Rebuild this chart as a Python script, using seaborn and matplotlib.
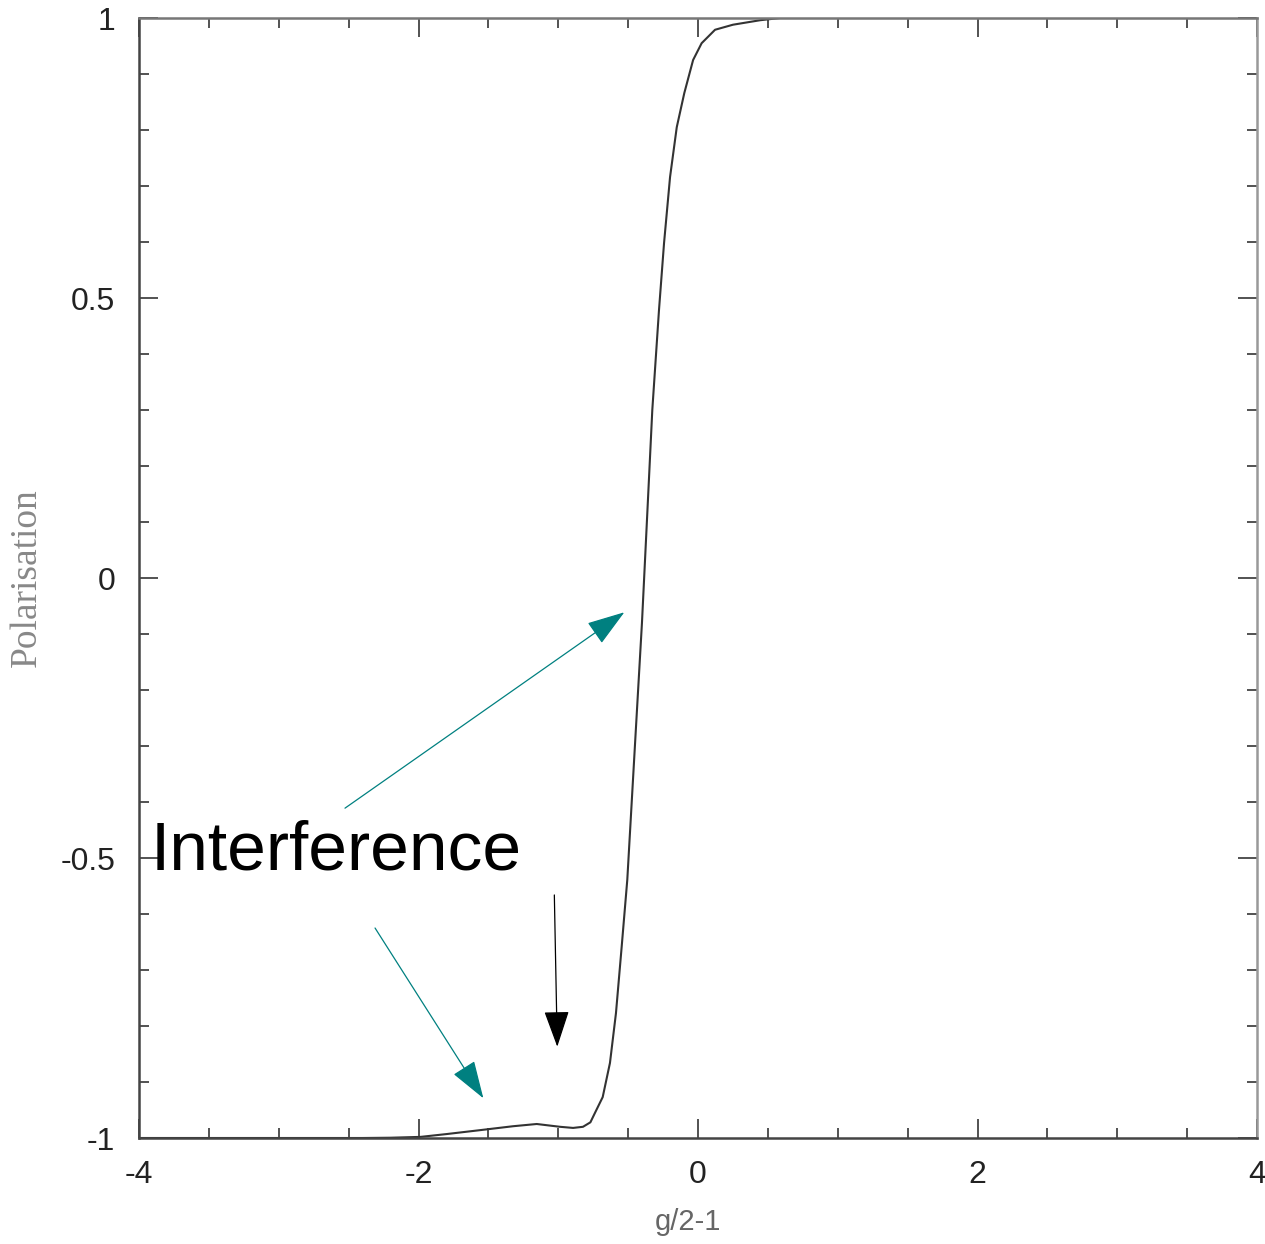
import matplotlib
matplotlib.use("Agg")
import matplotlib.pyplot as plt
import seaborn as sns
import pandas as pd

# ---- data ----
g_values = [-4.0, -3.0, -2.4, -2.2, -1.985, -1.80, -1.56, -1.324, -1.154, -0.987,
            -0.894, -0.823, -0.770, -0.737, -0.682, -0.630, -0.587, -0.546, -0.506, -0.451,
            -0.401, -0.360, -0.327, -0.279, -0.243, -0.200, -0.152, -0.098, -0.035,
            0.026, 0.122, 0.250, 0.444, 0.587, 1.0, 2.0, 3.0, 4.0]
polarisation = [-1.0, -1.0, -1.0, -0.9995, -0.998, -0.993, -0.986, -0.979, -0.975, -0.980,
                -0.982, -0.980, -0.972, -0.955, -0.927, -0.866, -0.777, -0.658, -0.539, -0.298,
                -0.080, 0.130, 0.300, 0.479, 0.598, 0.716, 0.805, 0.866, 0.925,
                0.955, 0.979, 0.988, 0.996, 1.0, 1.0, 1.0, 1.0, 1.0]

x_ticks = [-4, -2, 0, 2, 4]
x_tick_labels = ["-4", "-2", "0", "2", "4"]
y_ticks = [-1, -0.5, 0, 0.5, 1]
y_tick_labels = ["-1", "-0.5", "0", "0.5", "1"]
x_label = "g/2-1"
y_label = "Polarisation"
annotation_text = "Interference"

df = pd.DataFrame({"g": g_values, "P": polarisation})

sns.set_theme(style="white")
plt.rcParams["font.family"] = ["Liberation Sans", "DejaVu Sans"]
plt.rcParams["axes.unicode_minus"] = False

fig = plt.figure(figsize=(12.65, 12.44), dpi=100)
ax = fig.add_axes([139 / 1265, 106 / 1244, 1118 / 1265, 1120 / 1244])

sns.lineplot(data=df, x="g", y="P", ax=ax, color="#333333", linewidth=1.5,
             sort=False, estimator=None)

ax.set_xlim(-4, 4)
ax.set_ylim(-1, 1)
ax.set_xticks(x_ticks, x_tick_labels)
ax.set_yticks(y_ticks, y_tick_labels)
ax.set_xticks([v / 2 for v in range(-8, 9)], minor=True)
ax.set_yticks([v / 10 for v in range(-10, 11)], minor=True)

ax.tick_params(which="both", direction="in", top=True, right=True,
               bottom=True, left=True, color="#444444", width=1.3)
ax.tick_params(which="major", length=14)
ax.tick_params(which="minor", length=7.5)
ax.tick_params(axis="x", which="major", labelsize=23, pad=16, labelcolor="#222222")
ax.tick_params(axis="y", which="major", labelsize=23, pad=17, labelcolor="#222222")

for side, col in [("left", "#444444"), ("bottom", "#444444"), ("top", "#777777"), ("right", "#999999")]:
    ax.spines[side].set_visible(True)
    ax.spines[side].set_color(col)
    ax.spines[side].set_linewidth(1.8)

ax.set_xlabel(x_label, fontsize=21, color="#666666", va="center")
ax.xaxis.set_label_coords((688 - 139) / 1118, -(1222 - 1138) / 1120)
ax.set_ylabel(y_label, fontsize=27, color="#888888", va="center",
              family=["Liberation Serif", "DejaVu Serif"])
ax.yaxis.set_label_coords((27 - 139) / 1118, 0.5)

ax.text(-3.915, -0.521, annotation_text, fontsize=50, color="black",
        ha="left", va="baseline")

teal = "#008080"
ax.annotate("", xy=(-0.527, -0.0612), xytext=(-2.526, -0.411),
            arrowprops=dict(arrowstyle="-|>,head_length=24,head_width=8",
                            mutation_scale=1, color=teal, lw=0.9,
                            shrinkA=0, shrinkB=0))
ax.annotate("", xy=(-1.536, -0.929), xytext=(-2.311, -0.625),
            arrowprops=dict(arrowstyle="-|>,head_length=24,head_width=8",
                            mutation_scale=1, color=teal, lw=0.9,
                            shrinkA=0, shrinkB=0))
ax.annotate("", xy=(-1.007, -0.837), xytext=(-1.028, -0.566),
            arrowprops=dict(arrowstyle="-|>,head_length=23,head_width=8",
                            mutation_scale=1, color="black", lw=0.9,
                            shrinkA=0, shrinkB=0))

fig.savefig("out.png", dpi=100, facecolor="white")
